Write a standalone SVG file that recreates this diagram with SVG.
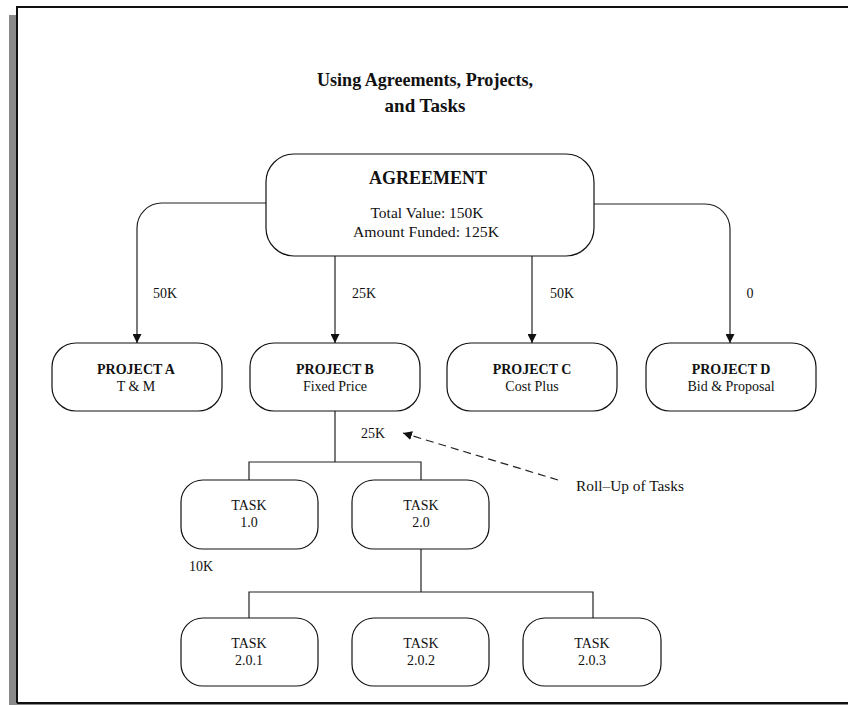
<svg xmlns="http://www.w3.org/2000/svg" width="848" height="705" viewBox="0 0 848 705">
  <style>
    text { font-family: "Liberation Serif", "Times New Roman", serif; fill: #111; text-anchor: middle; }
    .title { font-size: 19px; font-weight: bold; }
    .head { font-size: 18px; font-weight: bold; }
    .bold { font-size: 14px; font-weight: bold; }
    .txt { font-size: 14px; }
    .box { fill: #fff; stroke: #111; stroke-width: 1.2; }
    .wire { fill: none; stroke: #222; stroke-width: 1.2; }
    .dash { fill: none; stroke: #222; stroke-width: 1.2; stroke-dasharray: 8 5; }
  </style>
  <defs>
    <marker id="arrow" viewBox="0 0 10 10" refX="10" refY="5" markerWidth="9" markerHeight="9" markerUnits="userSpaceOnUse" orient="auto">
      <path d="M0,0 L10,5 L0,10 Z" fill="#111"/>
    </marker>
  </defs>

  <!-- page frame with shadow strip -->
  <rect x="0" y="0" width="848" height="705" fill="#fff"/>
  <rect x="9" y="15" width="8" height="690" fill="#8a8a8a"/>
  <rect x="9" y="703" width="839" height="2" fill="#8a8a8a"/>
  <path d="M17,703 V7 H848 M17,703 H848" fill="none" stroke="#111" stroke-width="2"/>

  <!-- heading -->
  <text class="title" x="425" y="86" textLength="216" lengthAdjust="spacingAndGlyphs">Using Agreements, Projects,</text>
  <text class="title" x="425" y="112">and Tasks</text>

  <!-- connectors -->
  <g id="connectors">
    <path class="wire" d="M266,203 H162 A25,25 0 0 0 137,228 V343" marker-end="url(#arrow)"/>
    <path class="wire" d="M335,256 V343" marker-end="url(#arrow)"/>
    <path class="wire" d="M532,256 V343" marker-end="url(#arrow)"/>
    <path class="wire" d="M594,204 H705 A25,25 0 0 1 730,229 V343" marker-end="url(#arrow)"/>
    <path class="wire" d="M335,411 V462 M249,480 V462 H421 V480"/>
    <path class="wire" d="M421,549 V592 M249,618 V592 H593 V618"/>
    <path class="dash" d="M558,480 L403,433" marker-end="url(#arrow)"/>
  </g>

  <!-- amounts on connectors -->
  <text class="txt" x="165" y="298">50K</text>
  <text class="txt" x="364" y="298">25K</text>
  <text class="txt" x="562" y="298">50K</text>
  <text class="txt" x="750" y="298">0</text>
  <text class="txt" x="373" y="438">25K</text>
  <text class="txt" x="201" y="571">10K</text>
  <text class="txt" x="630" y="491" textLength="108" lengthAdjust="spacingAndGlyphs">Roll–Up of Tasks</text>

  <g id="agreement">
    <rect class="box" x="266" y="154" width="328" height="102" rx="28"/>
    <text class="head" x="428" y="184">AGREEMENT</text>
    <text class="txt" x="427" y="218" textLength="113" lengthAdjust="spacingAndGlyphs">Total Value: 150K</text>
    <text class="txt" x="426" y="237" textLength="146" lengthAdjust="spacingAndGlyphs">Amount Funded: 125K</text>
  </g>

  <g id="project-a">
    <rect class="box" x="52" y="343" width="170" height="68" rx="24"/>
    <text class="bold" x="136" y="374">PROJECT A</text>
    <text class="txt" x="136" y="391">T &amp; M</text>
  </g>
  <g id="project-b">
    <rect class="box" x="250" y="343" width="170" height="68" rx="24"/>
    <text class="bold" x="335" y="374">PROJECT B</text>
    <text class="txt" x="335" y="391">Fixed Price</text>
  </g>
  <g id="project-c">
    <rect class="box" x="447" y="343" width="170" height="68" rx="24"/>
    <text class="bold" x="532" y="374">PROJECT C</text>
    <text class="txt" x="532" y="391">Cost Plus</text>
  </g>
  <g id="project-d">
    <rect class="box" x="646" y="343" width="170" height="68" rx="24"/>
    <text class="bold" x="731" y="374">PROJECT D</text>
    <text class="txt" x="731" y="391">Bid &amp; Proposal</text>
  </g>

  <g id="task-1-0">
    <rect class="box" x="181" y="480" width="137" height="69" rx="22"/>
    <text class="txt" x="249" y="510">TASK</text>
    <text class="txt" x="249" y="527">1.0</text>
  </g>
  <g id="task-2-0">
    <rect class="box" x="352" y="480" width="137" height="69" rx="22"/>
    <text class="txt" x="421" y="510">TASK</text>
    <text class="txt" x="421" y="527">2.0</text>
  </g>
  <g id="task-2-0-1">
    <rect class="box" x="181" y="618" width="137" height="68" rx="22"/>
    <text class="txt" x="249" y="648">TASK</text>
    <text class="txt" x="249" y="665">2.0.1</text>
  </g>
  <g id="task-2-0-2">
    <rect class="box" x="352" y="618" width="137" height="68" rx="22"/>
    <text class="txt" x="421" y="648">TASK</text>
    <text class="txt" x="421" y="665">2.0.2</text>
  </g>
  <g id="task-2-0-3">
    <rect class="box" x="523" y="618" width="138" height="68" rx="22"/>
    <text class="txt" x="592" y="648">TASK</text>
    <text class="txt" x="592" y="665">2.0.3</text>
  </g>
</svg>
